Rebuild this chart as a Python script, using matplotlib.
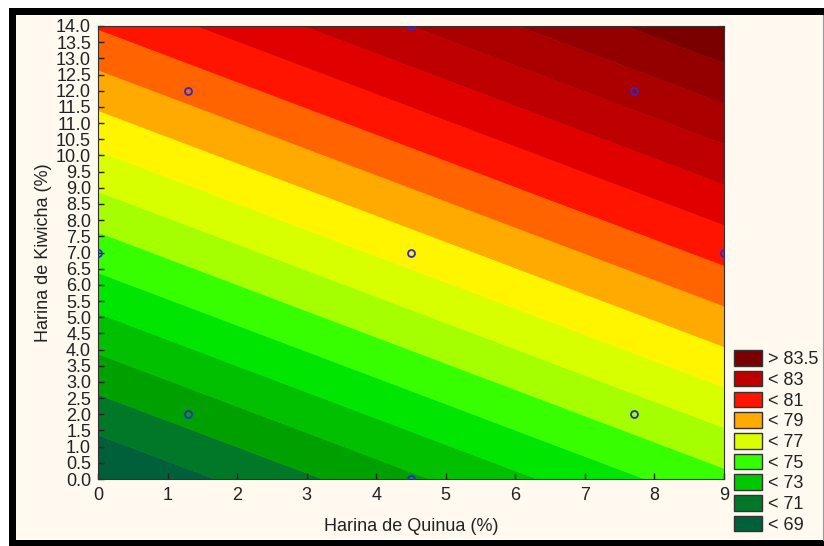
import numpy as np
import matplotlib.pyplot as plt
from matplotlib.patches import Patch, Rectangle

plt.rcParams['font.family'] = ['Liberation Sans', 'DejaVu Sans']

# fitted surface: z = b0 + bq*quinua + bk*kiwicha
b0, bq, bk = 67.42, 0.647, 0.798

# contour boundaries and band colours (low -> high)
levels = [68.5, 69.5, 70.5, 71.5, 72.5, 73.5, 74.5, 75.5,
          76.5, 77.5, 78.5, 79.5, 80.5, 81.5, 82.5, 83.5]
band_colors = ['#00603a', '#007828', '#00a000', '#00c000', '#00e600',
               '#37ff00', '#a5ff00', '#d7ff00', '#fff500', '#ffaa00',
               '#ff6400', '#ff1400', '#e10000', '#be0000', '#aa0000',
               '#940000', '#7a0000']

# experimental design points
quinua_pts = [0, 1.3, 1.3, 4.5, 4.5, 4.5, 7.7, 7.7, 9]
kiwicha_pts = [7, 2, 12, 0, 7, 14, 2, 12, 7]

legend_labels = ['> 83.5', '< 83', '< 81', '< 79', '< 77', '< 75', '< 73', '< 71', '< 69']
legend_colors = ['#7a0000', '#be0000', '#ff1400', '#ffaa00', '#dcff00',
                 '#32ff00', '#00c800', '#007828', '#00603a']

fig = plt.figure(figsize=(8.24, 5.46), dpi=100)
fig.patch.set_facecolor('white')
W, H = 824, 546
# outer black frame and cream panel
fig.patches.append(Rectangle((9 / W, 0), 1, 1 - 8 / H, transform=fig.transFigure,
                             facecolor='black', edgecolor='none', zorder=-3))
fig.patches.append(Rectangle((16 / W, 6 / H), (824 - 16) / W, (540 - 15) / H,
                             transform=fig.transFigure, facecolor='#fff9ef',
                             edgecolor='none', zorder=-2))
fig.lines.append(plt.Line2D([823 / W, 823 / W], [6 / H, 1 - 15 / H],
                            transform=fig.transFigure, color='#9a9a9a', lw=0.8))

ax = fig.add_axes([98 / W, 67 / H, 626 / W, 453 / H])

q = np.linspace(0, 9, 200)
k = np.linspace(0, 14, 200)
Q, K = np.meshgrid(q, k)
Z = b0 + bq * Q + bk * K
bounds = [Z.min() - 1] + levels + [Z.max() + 1]
# drawn twice so the antialiased seams between bands disappear
for _ in range(2):
    ax.contourf(Q, K, Z, levels=bounds, colors=band_colors, antialiased=True)

ax.plot(quinua_pts, kiwicha_pts, 'o', mfc='none', mec='#2a2ad0',
        ms=5, mew=1.3, clip_on=True, zorder=5)

ax.set_xlim(0, 9)
ax.set_ylim(0, 14)
ax.set_xticks(np.arange(0, 10, 1))
ax.set_yticks(np.arange(0, 14.5, 0.5))
ax.set_yticklabels(['%.1f' % v for v in np.arange(0, 14.5, 0.5)])
ax.tick_params(direction='in', length=4, width=1, colors='#222222',
               labelsize=13, pad=6)
ax.tick_params(axis='y', pad=5)

# top and right ticks
axt = ax.secondary_xaxis('top')
axt.set_xticks(np.linspace(0, 9, 7))
axt.tick_params(direction='in', length=4, labeltop=False)
axr = ax.secondary_yaxis('right')
axr.set_yticks(np.linspace(0, 14, 10))
axr.tick_params(direction='in', length=4, labelright=False)

for s in ax.spines.values():
    s.set_color('#333333')
for a in (axt, axr):
    for s in a.spines.values():
        s.set_visible(False)

ax.set_xlabel('Harina de Quinua (%)', fontsize=13, color='#222222', labelpad=10)
ax.set_ylabel('Harina de Kiwicha (%)', fontsize=13, color='#222222', labelpad=3)

handles = [Patch(facecolor=c, edgecolor='#333333', linewidth=1) for c in legend_colors]
fig.legend(handles, legend_labels, loc='lower left',
           bbox_to_anchor=(727 / W, 5 / H), frameon=False, fontsize=13,
           handlelength=1.55, handleheight=0.95, handletextpad=0.3,
           labelspacing=0.15, borderaxespad=0, labelcolor='#222222')

fig.savefig('out.png', dpi=100, facecolor=fig.get_facecolor())
